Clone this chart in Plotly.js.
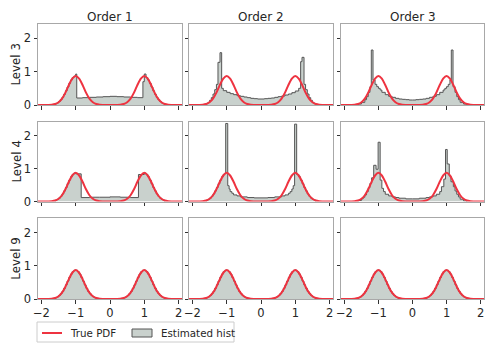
<!DOCTYPE html>
<html>
<head>
<meta charset="utf-8">
<script src="https://cdn.plot.ly/plotly-3.0.1.min.js"></script>
<style>html,body{margin:0;padding:0;background:#fff;}#chart{width:499px;height:353px;}</style>
</head>
<body>
<div id="chart"></div>
<script>
// ---------- data ----------
const orders = ["Order 1", "Order 2", "Order 3"];
const levels = ["Level 3", "Level 4", "Level 9"];
const xTicks = [-2, -1, 0, 1, 2];
const yTicks = [0, 1, 2];

// true PDF (bimodal)
const pdfX = [-2.1,-2.0,-1.9,-1.8,-1.7,-1.6,-1.5,-1.4,-1.3,-1.2,-1.1,-1.0,-0.9,-0.8,-0.7,-0.6,-0.5,-0.4,-0.3,-0.2,-0.1,0,
              0.1,0.2,0.3,0.4,0.5,0.6,0.7,0.8,0.9,1.0,1.1,1.2,1.3,1.4,1.5,1.6,1.7,1.8,1.9,2.0,2.1];
const pdfY = [0,0.0001,0.0004,0.002,0.0085,0.029,0.082,0.19,0.37,0.6,0.79,0.87,0.79,0.6,0.37,0.19,0.082,0.029,0.0085,0.002,0.0004,0.0002,
              0.0004,0.002,0.0085,0.029,0.082,0.19,0.37,0.6,0.79,0.87,0.79,0.6,0.37,0.19,0.082,0.029,0.0085,0.002,0.0004,0.0001,0];

// Level 3, Order 1
const edgesL3O1 = [-1.6,-1.55,-1.5,-1.45,-1.4,-1.35,-1.3,-1.25,-1.2,-1.15,-1.1,-1.05,-1.0,-0.97,-0.8,-0.6,-0.4,-0.2,0,0.2,0.4,0.6,0.8,0.96,1.0,1.05,1.1,1.15,1.2,1.25,1.3,1.35,1.4,1.45,1.5,1.55,1.6];
const histL3O1 = [0.038,0.064,0.103,0.158,0.23,0.321,0.426,0.539,0.651,0.751,0.825,0.865,0.93,0.21,0.22,0.23,0.24,0.25,0.26,0.25,0.24,0.23,0.22,0.7,0.93,0.825,0.751,0.651,0.539,0.426,0.321,0.23,0.158,0.103,0.064,0.038];

// Level 3, Order 2
const edgesL3O2 = [-1.65,-1.6,-1.55,-1.5,-1.45,-1.4,-1.35,-1.3,-1.255,-1.196,-1.147,-1.1,-1.0,-0.9,-0.8,-0.7,-0.6,-0.5,-0.4,-0.3,-0.2,-0.1,0,0.1,0.2,0.3,0.4,0.5,0.6,0.7,0.8,0.9,1.0,1.1,1.156,1.196,1.255,1.3,1.35,1.4,1.45,1.5,1.55,1.6,1.65];
const histL3O2 = [0.02,0.04,0.08,0.14,0.22,0.33,0.46,0.62,1.28,1.57,0.5,0.43,0.38,0.34,0.31,0.28,0.26,0.24,0.22,0.2,0.19,0.18,0.18,0.19,0.2,0.21,0.23,0.25,0.27,0.3,0.33,0.37,0.42,0.5,1.3,1.43,0.62,0.46,0.33,0.22,0.14,0.08,0.04,0.02];

// Level 3, Order 3
const edgesL3O3 = [-1.6,-1.5,-1.4,-1.35,-1.3,-1.25,-1.21,-1.16,-1.1,-1.05,-1.0,-0.95,-0.9,-0.8,-0.7,-0.6,-0.5,-0.4,-0.3,-0.2,-0.1,0,0.1,0.2,0.3,0.4,0.5,0.6,0.7,0.8,0.9,0.95,1.0,1.05,1.1,1.14,1.19,1.25,1.3,1.35,1.4,1.5,1.6];
const histL3O3 = [0.03,0.08,0.16,0.25,0.38,0.55,1.65,0.75,0.62,0.55,0.5,0.45,0.38,0.31,0.26,0.23,0.2,0.18,0.17,0.16,0.15,0.15,0.16,0.17,0.18,0.2,0.23,0.26,0.31,0.38,0.45,0.5,0.55,0.62,0.75,1.65,0.55,0.38,0.25,0.16,0.08,0.03];

// Level 4, Order 1
const edgesL4O1 = [-1.6,-1.55,-1.5,-1.45,-1.4,-1.35,-1.3,-1.25,-1.2,-1.15,-1.1,-1.05,-1.0,-0.84,-0.6,-0.3,0,0.3,0.6,0.83,1.0,1.05,1.1,1.15,1.2,1.25,1.3,1.35,1.4,1.45,1.5,1.55,1.6];
const histL4O1 = [0.038,0.064,0.103,0.158,0.23,0.321,0.426,0.539,0.651,0.751,0.825,0.865,0.84,0.12,0.13,0.13,0.14,0.13,0.12,0.82,0.865,0.825,0.751,0.651,0.539,0.426,0.321,0.23,0.158,0.103,0.064,0.038];

// Level 4, Order 2
const edgesL4O2 = [-1.6,-1.55,-1.5,-1.45,-1.4,-1.35,-1.3,-1.25,-1.2,-1.15,-1.1,-1.05,-1.03,-0.97,-0.93,-0.9,-0.85,-0.8,-0.7,-0.6,-0.4,-0.2,0,0.2,0.4,0.6,0.7,0.8,0.85,0.9,0.94,0.98,1.04,1.1,1.15,1.2,1.25,1.3,1.35,1.4,1.45,1.5,1.55,1.6];
const histL4O2 = [0.038,0.064,0.103,0.158,0.23,0.321,0.426,0.539,0.651,0.751,0.825,0.86,2.37,0.48,0.38,0.3,0.25,0.2,0.17,0.14,0.12,0.11,0.11,0.12,0.14,0.17,0.2,0.25,0.3,0.38,0.48,2.35,0.82,0.751,0.651,0.539,0.426,0.321,0.23,0.158,0.103,0.064,0.038];

// Level 4, Order 3
const edgesL4O3 = [-1.6,-1.5,-1.45,-1.4,-1.35,-1.3,-1.25,-1.2,-1.14,-1.07,-1.01,-0.95,-0.9,-0.85,-0.8,-0.7,-0.6,-0.5,-0.4,-0.2,0,0.2,0.4,0.5,0.6,0.7,0.8,0.85,0.92,0.97,1.02,1.08,1.13,1.2,1.25,1.3,1.35,1.4,1.5,1.6];
const histL4O3 = [0.03,0.08,0.13,0.2,0.3,0.42,0.55,0.72,1.1,0.98,1.8,0.65,0.4,0.3,0.22,0.17,0.14,0.12,0.1,0.08,0.08,0.1,0.12,0.14,0.17,0.22,0.3,0.45,0.68,1.58,1.14,0.78,0.6,0.45,0.32,0.22,0.14,0.07,0.02];

// Level 9 (all orders match the PDF)
const edgesL9 = [-1.6,-1.55,-1.5,-1.45,-1.4,-1.35,-1.3,-1.25,-1.2,-1.15,-1.1,-1.05,-1.0,-0.95,-0.9,-0.85,-0.8,-0.75,-0.7,-0.65,-0.6,-0.55,-0.5,-0.45,-0.4,
                 0.4,0.45,0.5,0.55,0.6,0.65,0.7,0.75,0.8,0.85,0.9,0.95,1.0,1.05,1.1,1.15,1.2,1.25,1.3,1.35,1.4,1.45,1.5,1.55,1.6];
const histL9 = [0.038,0.064,0.103,0.158,0.23,0.321,0.426,0.539,0.651,0.751,0.825,0.865,0.865,0.825,0.751,0.651,0.539,0.426,0.321,0.23,0.158,0.103,0.064,0.038,
                0,
                0.038,0.064,0.103,0.158,0.23,0.321,0.426,0.539,0.651,0.751,0.825,0.865,0.865,0.825,0.751,0.651,0.539,0.426,0.321,0.23,0.158,0.103,0.064,0.038];

const panelEdges = [[edgesL3O1, edgesL3O2, edgesL3O3],[edgesL4O1, edgesL4O2, edgesL4O3],[edgesL9, edgesL9, edgesL9]];
const panelHist  = [[histL3O1, histL3O2, histL3O3],[histL4O1, histL4O2, histL4O3],[histL9, histL9, histL9]];

// ---------- styling / layout ----------
const W = 499, H = 353;
const colPx = [[38,182],[189,333],[341,484]];
const rowPx = [[24,105],[121.5,201.5],[218.3,299]];
const FONT = "DejaVu Sans";
const RED = "#ee3340", FILL = "#c9d1cd", EDGE = "#555555", SPINE = "#a8a8a8", TXT = "#262626";
const TICKSIZE = 11.5, LABSIZE = 11.8, TITLESIZE = 12, LEGSIZE = 10.3;

function stepXY(edges, h) {
  const xs = [edges[0]], ys = [0];
  for (let i = 0; i < h.length; i++) { xs.push(edges[i]); ys.push(h[i]); }
  xs.push(edges[edges.length - 1]); ys.push(0);
  return [xs, ys];
}

const data = [];
const layout = {
  width: W, height: H, margin: {l:0, r:0, t:0, b:0},
  paper_bgcolor: "#fff", plot_bgcolor: "#fff", showlegend: false,
  font: {family: FONT, color: TXT, size: TICKSIZE},
  annotations: [], shapes: []
};

for (let r = 0; r < 3; r++) {
  for (let c = 0; c < 3; c++) {
    const k = r * 3 + c + 1;
    const sfx = k === 1 ? "" : String(k);
    const [xs, ys] = stepXY(panelEdges[r][c], panelHist[r][c]);
    data.push({type: "scatter", mode: "lines", x: xs, y: ys, xaxis: "x" + sfx, yaxis: "y" + sfx,
      line: {shape: "hv", color: EDGE, width: 1}, fill: "tozeroy", fillcolor: FILL,
      name: "Estimated hist", hoverinfo: "skip"});
    data.push({type: "scatter", mode: "lines", x: pdfX, y: pdfY, xaxis: "x" + sfx, yaxis: "y" + sfx,
      line: {shape: "spline", smoothing: 0.8, color: RED, width: 2}, name: "True PDF", hoverinfo: "skip"});
    layout["xaxis" + sfx] = {
      domain: [colPx[c][0] / W, colPx[c][1] / W], anchor: "y" + sfx, range: [-2.1, 2.1],
      tickvals: xTicks, ticktext: xTicks.map(v => v < 0 ? "\u2212" + Math.abs(v) : String(v)),
      showticklabels: r === 2, ticks: "outside", ticklen: 3.5, tickwidth: 1, tickcolor: "#333",
      showline: true, mirror: true, linecolor: SPINE, linewidth: 1, showgrid: false, zeroline: false,
      tickfont: {family: FONT, size: TICKSIZE, color: TXT}, fixedrange: true
    };
    layout["yaxis" + sfx] = {
      domain: [1 - rowPx[r][1] / H, 1 - rowPx[r][0] / H], anchor: "x" + sfx, range: [0, 2.43],
      tickvals: yTicks, showticklabels: c === 0, ticks: "outside", ticklen: 3.5, tickwidth: 1, tickcolor: "#333",
      showline: true, mirror: true, linecolor: SPINE, linewidth: 1, showgrid: false, zeroline: false,
      tickfont: {family: FONT, size: TICKSIZE, color: TXT}, fixedrange: true
    };
  }
}

// column titles
for (let c = 0; c < 3; c++) {
  layout.annotations.push({text: orders[c], xref: "paper", yref: "paper", showarrow: false,
    x: (colPx[c][0] + colPx[c][1]) / 2 / W, y: 1 - 17 / H, xanchor: "center", yanchor: "middle",
    font: {family: FONT, size: TITLESIZE, color: TXT}});
}
// row labels
for (let r = 0; r < 3; r++) {
  layout.annotations.push({text: levels[r], xref: "paper", yref: "paper", showarrow: false, textangle: -90,
    x: 16 / W, y: 1 - (rowPx[r][0] + rowPx[r][1]) / 2 / H, xanchor: "center", yanchor: "middle",
    font: {family: FONT, size: LABSIZE, color: TXT}});
}

// legend (drawn below the grid)
layout.shapes.push({type: "rect", xref: "paper", yref: "paper", x0: 37 / W, x1: 234 / W, y0: 1 - 342 / H, y1: 1 - 322 / H,
  line: {color: "#cccccc", width: 1}, fillcolor: "rgba(255,255,255,0.8)"});
layout.shapes.push({type: "line", xref: "paper", yref: "paper", x0: 42 / W, x1: 62 / W, y0: 1 - 333 / H, y1: 1 - 333 / H,
  line: {color: RED, width: 2}});
layout.shapes.push({type: "rect", xref: "paper", yref: "paper", x0: 132 / W, x1: 152 / W, y0: 1 - 337 / H, y1: 1 - 329 / H,
  line: {color: EDGE, width: 1}, fillcolor: FILL});
layout.annotations.push({text: "True PDF", xref: "paper", yref: "paper", showarrow: false, x: 68 / W, y: 1 - 333 / H,
  xanchor: "left", yanchor: "middle", font: {family: FONT, size: LEGSIZE, color: TXT}});
layout.annotations.push({text: "Estimated hist", xref: "paper", yref: "paper", showarrow: false, x: 159 / W, y: 1 - 333 / H,
  xanchor: "left", yanchor: "middle", font: {family: FONT, size: LEGSIZE, color: TXT}});

Plotly.newPlot("chart", data, layout, {staticPlot: true, displayModeBar: false});
</script>
</body>
</html>
